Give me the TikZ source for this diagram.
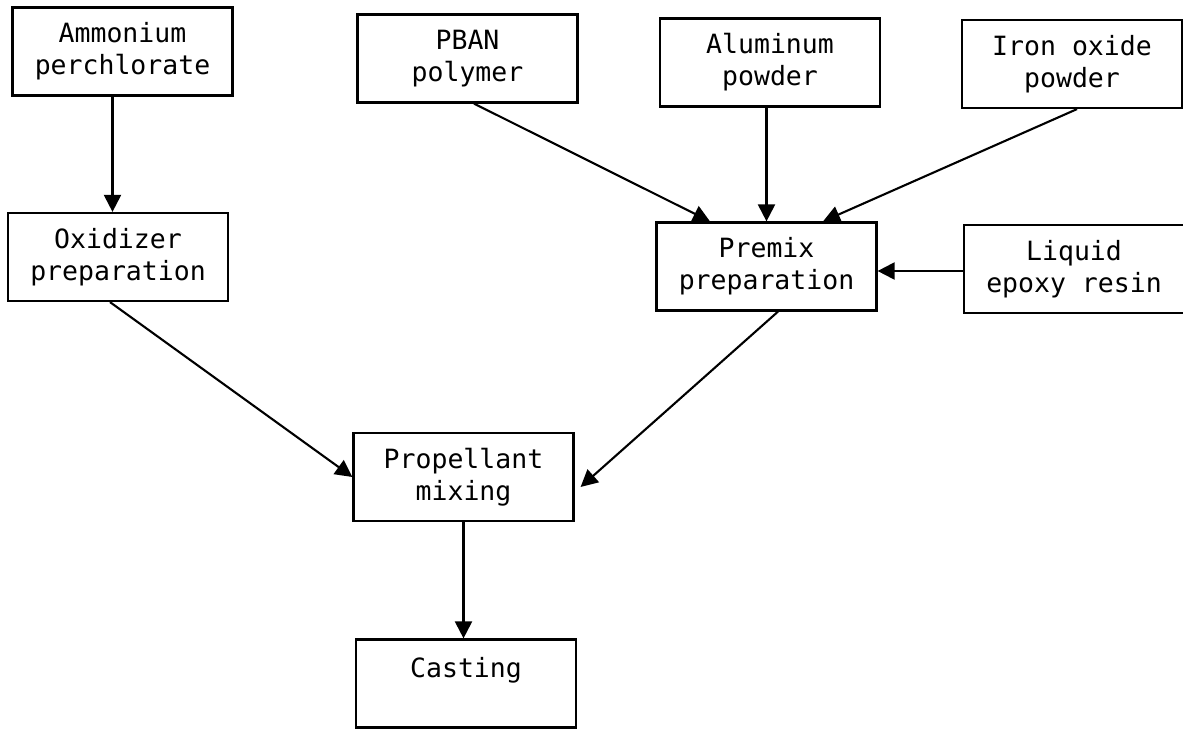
\documentclass[tikz,border=0pt]{standalone}
\usepackage{fontspec}
\setmonofont{DejaVu Sans Mono}
\usetikzlibrary{arrows.meta,calc}
\begin{document}
\begin{tikzpicture}[x=1pt,y=-1pt,
  stepbox/.style={draw, line width=2.2pt, minimum width=220pt, minimum height=88pt,
    inner sep=0pt, align=center, font=\ttfamily\fontsize{26.5}{32}\selectfont},
  flow/.style={line width=2.1pt, -{Triangle[length=17pt,width=17pt]}}]
\useasboundingbox (0,0) rectangle (1183,730);

% raw materials
\node[stepbox] (amm)    at (122.5,51.5) {Ammonium\\perchlorate};
\node[stepbox] (pban)   at (467.5,58.5) {PBAN\\polymer};
\node[stepbox] (alu)    at (770,62.5)   {Aluminum\\powder};
\node[stepbox] (iron)   at (1072,64)    {Iron oxide\\powder};
\node[stepbox] (epoxy)  at (1074,269)   {Liquid\\epoxy resin};

% processing steps
\node[stepbox] (oxi)    at (118,257)    {Oxidizer\\preparation};
\node[stepbox] (premix) at (766.5,266.5) {Premix\\preparation};
\node[stepbox] (prop)   at (463.5,477)  {Propellant\\mixing};
\node[stepbox] (cast)   at (466,683.5)  {Casting\\\mbox{}};

% material flow
\draw[flow] ([shift={(-10,0)}]amm.south) -- ([shift={(-10,0)}]amm.south |- oxi.north);
\draw[flow] ([shift={(6.5,0)}]pban.south) -- ([shift={(-56.5,0)}]premix.north);
\draw[flow] (alu.south -| premix.north) -- (premix.north);
\draw[flow] ([shift={(5,0)}]iron.south) -- ([shift={(56.5,0)}]premix.north);
\draw[flow] ([shift={(0,2)}]epoxy.west) -- ([shift={(0,2)}]epoxy.west -| premix.east);
\draw[flow] ([shift={(-8,0)}]oxi.south) -- (prop.west);
\draw[flow] ([shift={(11.5,0)}]premix.south) -- ([shift={(6,10)}]prop.east);
\draw[flow] (prop.south) -- (prop.south |- cast.north);
\end{tikzpicture}
\end{document}
